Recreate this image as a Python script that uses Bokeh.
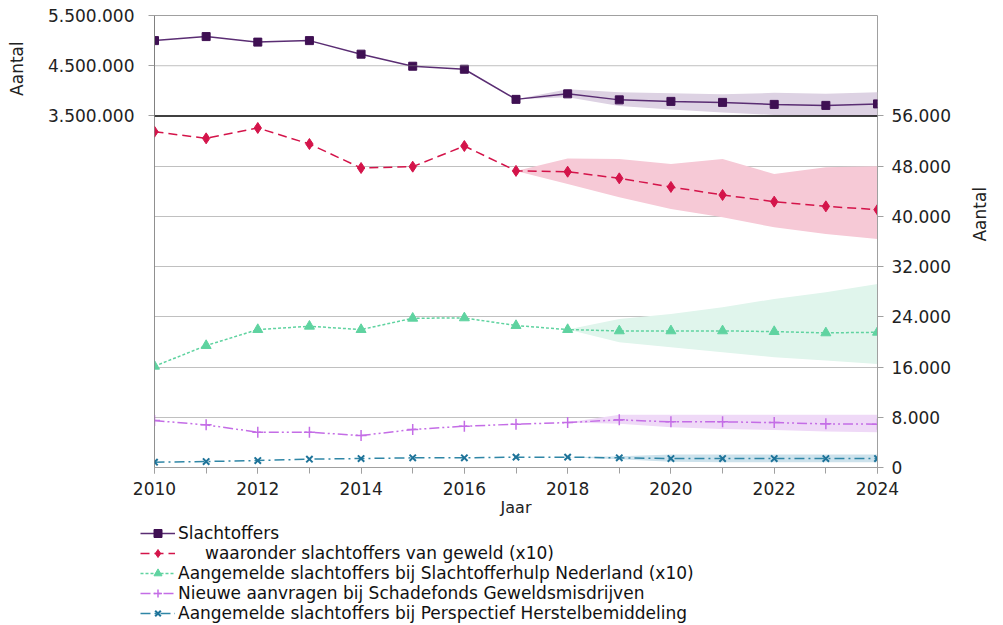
from bokeh.plotting import figure
from bokeh.layouts import column
from bokeh.models import Range1d, LinearAxis, FixedTicker, SingleIntervalTicker, Span, Legend, LegendItem
from bokeh.embed import file_html
from bokeh.resources import INLINE

# ---------------- data ----------------
years = [2010, 2011, 2012, 2013, 2014, 2015, 2016, 2017, 2018, 2019, 2020, 2021, 2022, 2023, 2024]
slachtoffers = [5000000, 5080000, 4970000, 5000000, 4730000, 4490000, 4430000, 3830000,
                3940000, 3820000, 3790000, 3770000, 3730000, 3710000, 3740000]
geweld_x10 = [53490, 52430, 54080, 51530, 47710, 47920, 51210, 47250,
              47120, 46060, 44690, 43410, 42350, 41600, 41070]
shn_x10 = [16130, 19420, 21970, 22500, 21970, 23770, 23830, 22610,
           21970, 21760, 21760, 21760, 21650, 21440, 21540]
schadefonds = [7480, 6790, 5620, 5620, 5090, 6050, 6580, 6900,
               7160, 7590, 7270, 7270, 7160, 6950, 6900]
perspectief = [850, 950, 1110, 1330, 1430, 1540, 1540, 1650,
               1650, 1540, 1430, 1430, 1430, 1430, 1430]

# forecast bands
band_years_a = [2017, 2018, 2019, 2020, 2021, 2022, 2023, 2024]
slachtoffers_low = [3830000, 3870000, 3700000, 3630000, 3570000, 3520000, 3500000, 3500000]
slachtoffers_high = [3830000, 4030000, 3970000, 3950000, 3930000, 3960000, 3940000, 3970000]
geweld_low = [47250, 45170, 43030, 41180, 39850, 38260, 37200, 36410]
geweld_high = [47250, 49240, 49140, 48350, 49140, 46750, 47810, 47970]

band_years_b = [2018, 2019, 2020, 2021, 2022, 2023, 2024]
shn_low = [21970, 19950, 19150, 18360, 17560, 17030, 16500]
shn_high = [21970, 23670, 24470, 25520, 26850, 27910, 29240]
schadefonds_low = [7160, 6950, 6420, 6150, 5990, 5730, 5620]
schadefonds_high = [7160, 8390, 8390, 8390, 8390, 8390, 8390]
perspectief_low = [1650, 1300, 900, 850, 850, 850, 850]
perspectief_high = [1650, 1800, 2070, 2070, 2070, 2070, 2070]

left_ticks = [3500000, 4500000, 5500000]
left_tick_labels = ["3.500.000", "4.500.000", "5.500.000"]
right_ticks = [0, 8000, 16000, 24000, 32000, 40000, 48000, 56000]
right_tick_labels = ["0", "8.000", "16.000", "24.000", "32.000", "40.000", "48.000", "56.000"]

series_names = [
    "Slachtoffers",
    "\u00a0\u00a0\u00a0\u00a0\u00a0waaronder slachtoffers van geweld (x10)",
    "Aangemelde slachtoffers bij Slachtofferhulp Nederland (x10)",
    "Nieuwe aanvragen bij Schadefonds Geweldsmisdrijven",
    "Aangemelde slachtoffers bij Perspectief Herstelbemiddeling",
]
y_title = "Aantal"
x_title = "Jaar"

FONT = "DejaVu Sans"
C_SL, C_SL_M, C_SL_B = "#5a2d73", "#3f1053", "#ddd2e3"
C_GW, C_GW_B = "#d4144a", "#f6c9d6"
C_SH, C_SH_B = "#5fd3a0", "#e0f5ec"
C_SF, C_SF_B = "#c46de6", "#efd9f7"
C_PH, C_PH_M, C_PH_B = "#2f86a6", "#1e7399", "#cde2ec"
GRAY = "#a0a0a0"
NB = "\u00a0"

STYLES = [
    dict(line=dict(line_color=C_SL, line_width=1.5),
         mark=dict(marker="square", size=8, fill_color=C_SL_M, line_color=C_SL_M)),
    dict(line=dict(line_color=C_GW, line_width=1.5, line_dash="9 5"),
         mark=dict(marker="diamond", size=11, fill_color=C_GW, line_color=C_GW)),
    dict(line=dict(line_color=C_SH, line_width=1.5, line_dash="3 2"),
         mark=dict(marker="triangle", size=10, fill_color=C_SH, line_color=C_SH)),
    dict(line=dict(line_color=C_SF, line_width=1.5, line_dash="10 3 2 3 2 3"),
         mark=dict(marker="cross", size=11, line_color=C_SF, line_width=1.5)),
    dict(line=dict(line_color=C_PH, line_width=1.5, line_dash="10 4 2 4"),
         mark=dict(marker="x", size=9, line_color=C_PH_M, line_width=2)),
]

p = figure(width=1003, height=520, output_backend="svg", toolbar_location=None,
           x_range=Range1d(2010, 2024), y_range=Range1d(0, 72000),
           y_axis_location="right",
           min_border_left=154, min_border_right=126, min_border_top=15, min_border_bottom=53)
p.extra_y_ranges = {"left": Range1d(-3500000, 5500000)}
p.outline_line_color = GRAY
p.background_fill_color = "white"
p.border_fill_color = "white"
p.xgrid.visible = False
p.frame_align = False

# grid lines
p.ygrid.ticker = FixedTicker(ticks=right_ticks[1:-1])
p.ygrid.grid_line_color = "#808080"
p.ygrid.grid_line_dash = "1 1"
p.ygrid.grid_line_width = 1
p.add_layout(Span(location=left_ticks[1], dimension="width", y_range_name="left",
                  line_color="#808080", line_dash="1 1", line_width=1))
p.add_layout(Span(location=years[0], dimension="height", line_color="#808080", line_width=1))

# right axis
ya = p.yaxis[0]
ya.ticker = FixedTicker(ticks=right_ticks)
ya.major_label_overrides = dict(zip(right_ticks, right_tick_labels))
ya.bounds = (right_ticks[0], right_ticks[-1])
ya.axis_line_color = GRAY
ya.major_tick_line_color = GRAY
ya.major_tick_in = 0
ya.major_tick_out = 6
ya.major_label_standoff = 8
ya.major_label_text_font = FONT
ya.major_label_text_font_size = "17px"
ya.major_label_text_color = "#222222"
ya.axis_label = y_title
ya.axis_label_orientation = 1.5708
ya.axis_label_standoff = 26
ya.axis_label_text_font = FONT
ya.axis_label_text_font_size = "17px"
ya.axis_label_text_font_style = "normal"
ya.axis_label_text_color = "#222222"

# left axis
la = LinearAxis(y_range_name="left", ticker=FixedTicker(ticks=left_ticks),
                major_label_overrides=dict(zip(left_ticks, left_tick_labels)),
                bounds=(left_ticks[0], left_ticks[-1]))
la.axis_line_color = "#808080"
la.major_tick_line_color = GRAY
la.major_tick_in = 0
la.major_tick_out = 6
la.major_label_standoff = 14
la.major_label_text_font = FONT
la.major_label_text_font_size = "17px"
la.major_label_text_color = "#222222"
la.axis_label = NB * 64 + y_title
la.axis_label_standoff = 18
la.axis_label_text_font = FONT
la.axis_label_text_font_size = "17px"
la.axis_label_text_font_style = "normal"
la.axis_label_text_color = "#222222"
p.add_layout(la, "left")

# x axis
xa = p.xaxis[0]
xa.ticker = SingleIntervalTicker(interval=2, num_minor_ticks=2)
xa.axis_line_color = GRAY
xa.major_tick_line_color = GRAY
xa.minor_tick_line_color = GRAY
xa.major_tick_in = 0
xa.major_tick_out = 6
xa.minor_tick_in = 0
xa.minor_tick_out = 6
xa.major_label_standoff = 8
xa.major_label_text_font = FONT
xa.major_label_text_font_size = "17px"
xa.major_label_text_color = "#222222"
xa.axis_label = x_title
xa.axis_label_text_font = FONT
xa.axis_label_text_font_size = "16px"
xa.axis_label_text_font_style = "normal"
xa.axis_label_text_color = "#222222"
xa.axis_label_standoff = 0

# bands
p.varea(x=band_years_a, y1=slachtoffers_low, y2=slachtoffers_high, fill_color=C_SL_B, y_range_name="left")
p.varea(x=band_years_a, y1=geweld_low, y2=geweld_high, fill_color=C_GW_B)
p.varea(x=band_years_b, y1=shn_low, y2=shn_high, fill_color=C_SH_B)
p.varea(x=band_years_b, y1=schadefonds_low, y2=schadefonds_high, fill_color=C_SF_B)
p.varea(x=band_years_b, y1=perspectief_low, y2=perspectief_high, fill_color=C_PH_B)

# black separator
p.add_layout(Span(location=right_ticks[-1], dimension="width", line_color="black", line_width=1.5))

# series
series = [slachtoffers, geweld_x10, shn_x10, schadefonds, perspectief]
for i, (vals, st) in enumerate(zip(series, STYLES)):
    kw = dict(y_range_name="left") if i == 0 else {}
    p.line(years, vals, **st["line"], **kw)
    p.scatter(years, vals, **st["mark"], **kw)

# legend figure (legend keys only; placeholder renderers hold no visible data)
lg = figure(width=1003, height=105, output_backend="svg", toolbar_location=None,
            x_range=Range1d(0, 1), y_range=Range1d(0, 1),
            min_border=0, outline_line_color=None)
lg.axis.visible = False
lg.grid.visible = False
lg.frame_align = False
nan = float("nan")
items = []
for name, st in zip(series_names, STYLES):
    r1 = lg.line(x=[nan], y=[nan], **st["line"])
    r2 = lg.scatter(x=[nan], y=[nan], **st["mark"])
    items.append(LegendItem(label=name, renderers=[r1, r2]))
legend = Legend(items=items, location=(140, 2))
legend.glyph_width = 35
legend.glyph_height = 20
legend.label_height = 20
legend.spacing = 0
legend.padding = 0
legend.margin = 0
legend.label_standoff = 3
legend.border_line_alpha = 0
legend.background_fill_alpha = 0
legend.label_text_font = FONT
legend.label_text_font_size = "17px"
legend.label_text_color = "#111111"
lg.add_layout(legend, "center")

layout = column(p, lg, spacing=0)
open("out.html", "w").write(file_html(layout, INLINE))
